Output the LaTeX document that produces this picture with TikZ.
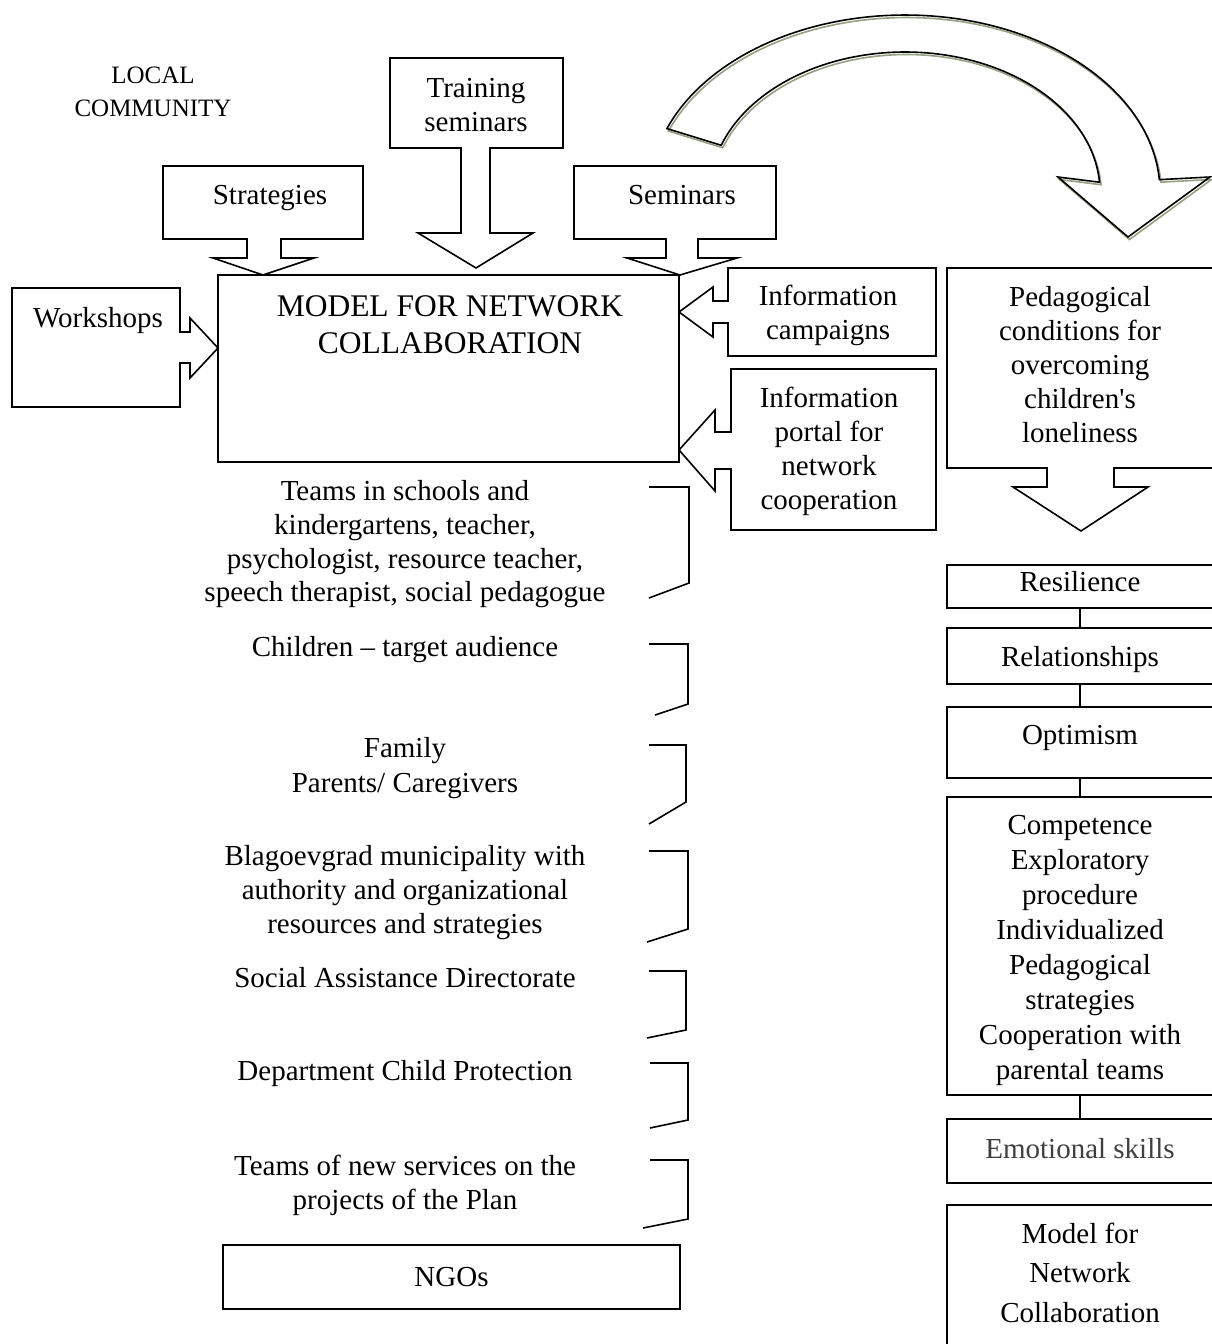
\documentclass[tikz,border=0pt]{standalone}
\usepackage{fontspec}
\setmainfont{Liberation Serif}
\definecolor{shadowc}{RGB}{150,160,130}
\begin{document}
\begin{tikzpicture}[x=1pt, y=-1pt,
  outline/.style={draw=black, line width=1.6pt, line join=miter},
  lbl/.style={font=\fontsize{29}{34}\selectfont, align=center, inner sep=0pt},
  box/.style={draw=black, line width=1.6pt, inner sep=0pt, outer sep=0pt},
  link/.style={draw=black, line width=1.6pt},
  brace/.style={draw=black, line width=1.6pt},
]
\useasboundingbox (0,0) rectangle (1211,1344);

% curved block arrow with its offset shadow line
\foreach \sx/\sy/\col in {1.5/2.5/shadowc, 0/0/black}{
  \draw[line width=1.6pt, draw=\col, line join=miter, shift={(\sx,\sy)}]
    plot[domain=159:4, samples=80] ({905+255*cos(\x)}, {192-177*sin(\x)})
    -- (1210,177) -- (1128,237) -- (1058,177)
    -- plot[domain=4:160.5, samples=80] ({905+195*cos(\x)}, {192-140*sin(\x)})
    -- cycle;
}

% callout boxes around the main model
\draw[outline] (12,288) -- (180,288) -- (180,332) -- (190,332) -- (190,318)
  -- (218,348) -- (190,378) -- (190,363) -- (180,363) -- (180,407) -- (12,407) -- cycle;
\draw[outline] (163,166) -- (363,166) -- (363,239) -- (281,239) -- (281,258) -- (314,258)
  -- (263,275) -- (213,258) -- (247,258) -- (247,239) -- (163,239) -- cycle;
\draw[outline] (390,58) -- (563,58) -- (563,148) -- (490,148) -- (490,233) -- (533,233)
  -- (476,268) -- (418,233) -- (461,233) -- (461,148) -- (390,148) -- cycle;
\draw[outline] (574,166) -- (776,166) -- (776,239) -- (698,239) -- (698,258) -- (737,258)
  -- (680,275) -- (627,258) -- (666,258) -- (666,239) -- (574,239) -- cycle;
\draw[outline] (728,268) -- (936,268) -- (936,356) -- (728,356) -- (728,323) -- (713,323)
  -- (713,337) -- (679,312) -- (713,287) -- (713,301) -- (728,301) -- cycle;
\draw[outline] (731,369) -- (936,369) -- (936,530) -- (731,530) -- (731,469) -- (715,469)
  -- (715,491) -- (679,450) -- (715,410) -- (715,432) -- (731,432) -- cycle;
\draw[outline] (947,268) -- (1213,268) -- (1213,468) -- (1114,468) -- (1114,487) -- (1148,487)
  -- (1081,531) -- (1013,487) -- (1047,487) -- (1047,468) -- (947,468) -- cycle;

% texts of the callouts
\node[lbl, font=\fontsize{25}{33}\selectfont] (local) at (153,91.5) {LOCAL\\COMMUNITY};
\node[lbl] (trainT) at (476,105) {Training\\seminars};
\node[lbl] (stratT) at (270,198.5) {Strategies};
\node[lbl] (semT) at (682,195.5) {Seminars};
\node[lbl] (workT) at (98,321) {Workshops};
\node[lbl] (campT) at (828,315) {Information\\campaigns};
\node[lbl] (portT) at (829,451) {Information\\portal for\\network\\cooperation};
\node[lbl] (pedT) at (1080,364.5) {Pedagogical\\conditions for\\overcoming\\children\textquotesingle s\\loneliness};

% main model box
\node[box, minimum width=461pt, minimum height=187pt] (model) at (448.5,368.5) {};
\node[lbl, font=\fontsize{31.5}{37}\selectfont] (modelT) at (450,325) {MODEL FOR NETWORK\\COLLABORATION};

% participants of the network
\node[lbl, font=\fontsize{29}{33.7}\selectfont] (teamsT) at (405,544.5)
  {Teams in schools and\\kindergartens, teacher,\\psychologist, resource teacher,\\speech therapist, social pedagogue};
\node[lbl] (childT) at (405,650) {Children – target audience};
\node[lbl, font=\fontsize{29}{35}\selectfont] (famT) at (405,768.5) {Family\\Parents/ Caregivers};
\node[lbl] (blagT) at (405,893) {Blagoevgrad municipality with\\authority and organizational\\resources and strategies};
\node[lbl] (socT) at (405,977.5) {Social Assistance Directorate};
\node[lbl] (depT) at (405,1074) {Department Child Protection};
\node[lbl] (newT) at (405,1185) {Teams of new services on the\\projects of the Plan};
\node[box, font=\fontsize{29}{34}\selectfont, minimum width=457pt, minimum height=64pt] (ngo) at (451.5,1277) {NGOs};

% brackets
\draw[brace] (649,487) -- (689,487) -- (689,583) -- (649,598);
\draw[brace] (649,644) -- (688,644) -- (688,704) -- (655,715);
\draw[brace] (649,745) -- (686,745) -- (686,802) -- (649,824);
\draw[brace] (649,851) -- (688,851) -- (688,929) -- (647,942);
\draw[brace] (649,971) -- (686,971) -- (686,1030) -- (647,1038);
\draw[brace] (650,1063) -- (688,1063) -- (688,1120) -- (650,1128);
\draw[brace] (650,1160) -- (688,1160) -- (688,1219) -- (643,1228);

% right column
\node[box, minimum width=266pt, minimum height=43pt] (res) at (1080,586.5) {};
\node[lbl] (resT) at (1080,582) {Resilience};
\node[box, minimum width=266pt, minimum height=56pt] (rel) at (1080,656) {};
\node[lbl] (relT) at (1080,660) {Relationships};
\node[box, minimum width=266pt, minimum height=71pt] (opt) at (1080,742.5) {};
\node[lbl] (optT) at (1080,738) {Optimism};
\node[box, minimum width=266pt, minimum height=298pt] (comp) at (1080,946) {};
\node[lbl, font=\fontsize{29}{35}\selectfont] (compT) at (1080,950.5)
  {Competence\\Exploratory\\procedure\\Individualized\\Pedagogical\\strategies\\Cooperation with\\parental teams};
\node[box, minimum width=266pt, minimum height=64pt] (emo) at (1080,1151) {};
\node[lbl, text=black!75] (emoT) at (1080,1148.5) {Emotional skills};
\node[box, minimum width=266pt, minimum height=160pt] (mnc) at (1080,1285) {};
\node[lbl, font=\fontsize{29}{39.5}\selectfont] (mncT) at (1080,1272.5) {Model for\\Network\\Collaboration};

\draw[link] (res.south) -- (rel.north);
\draw[link] (rel.south) -- (opt.north);
\draw[link] (opt.south) -- (comp.north);
\draw[link] (comp.south) -- (emo.north);
\end{tikzpicture}
\end{document}
